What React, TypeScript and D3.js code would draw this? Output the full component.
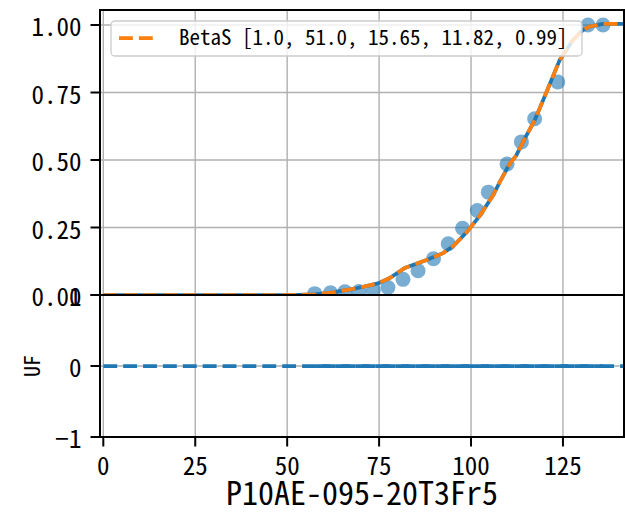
import React from "react";
import * as d3 from "d3";

// ---- data ----
const dataX = [57.5, 61.8, 65.7, 69.5, 73.4, 77.4, 81.5, 85.6, 89.8, 93.8, 97.7, 101.7, 104.7, 109.8, 113.7, 117.3, 123.6, 131.8, 135.9];
const dataY = [0.005, 0.008, 0.012, 0.013, 0.018, 0.028, 0.058, 0.09, 0.134, 0.19, 0.247, 0.313, 0.381, 0.485, 0.567, 0.653, 0.789, 1.0, 1.0];

const fitX = [0, 51, 57.5, 62.5, 68.9, 74.7, 77.9, 82.0, 87.9, 92.4, 95.1, 98.8, 102.4, 106.0, 107.8, 110.5, 112.3, 114.6, 117.3, 119.6, 124.1, 127.7, 130.4, 132.2, 135.9, 141.6];
const fitY = [0, 0, 0.002, 0.01, 0.025, 0.043, 0.063, 0.10, 0.13, 0.155, 0.18, 0.232, 0.294, 0.369, 0.418, 0.486, 0.517, 0.579, 0.647, 0.721, 0.87, 0.944, 0.981, 0.994, 1.004, 1.004];

const residLineX = [0, 141.6];
const residLineY = [0, 0];
const residDataY = dataX.map(() => 0);

const xTicks = [0, 25, 50, 75, 100, 125];
const yTopTicks = [0, 0.25, 0.5, 0.75, 1.0];
const yTopLabels = ["0.00", "0.25", "0.50", "0.75", "1.00"];
const yBotTicks = [-1, 0, 1];
const yBotLabels = ["\u22121", "0", "1"];

const legendLabel = "BetaS [1.0, 51.0, 15.65, 11.82, 0.99]";
const xLabel = "P10AE-095-20T3Fr5";
const yBotLabel = "UF";

const BLUE = "#1f77b4";
const ORANGE = "#ff7f0e";
const GRID = "#b0b0b0";
const FONT = "'Noto Sans Mono CJK JP', 'Noto Sans CJK JP', monospace";

export default function App() {
  const left = 100, right = 624;
  const topY0 = 10, topY1 = 295;
  const botY0 = 295, botY1 = 437;

  const x = d3.scaleLinear().domain([-0.9, 141.6]).range([left, right]);
  const yTop = d3.scaleLinear().domain([0, 1.0556]).range([topY1, topY0]);
  const yBot = d3.scaleLinear().domain([-1, 1]).range([botY1, botY0]);

  const fitPts = fitX.map((v, i) => [v, fitY[i]] as [number, number]);
  const lineTop = d3.line<[number, number]>().x(d => x(d[0])).y(d => yTop(d[1]));
  const lineBot = d3.line<[number, number]>().x(d => x(d[0])).y(d => yBot(d[1]));

  const residFull = residLineX.map((v, i) => [v, residLineY[i]] as [number, number]);
  const residData = dataX.map((v, i) => [v, residDataY[i]] as [number, number]);

  const lw = 3.75;
  const dash = `${3.7 * lw} ${1.6 * lw}`;

  return (
    <svg width={625} height={512} style={{ position: "absolute", left: 0, top: 0, background: "#fff" }} fontFamily={FONT}>
      <defs>
        <clipPath id="clipTop"><rect x={left} y={topY0} width={right - left} height={topY1 - topY0} /></clipPath>
        <clipPath id="clipBot"><rect x={left} y={botY0} width={right - left} height={botY1 - botY0} /></clipPath>
      </defs>
      <rect x={0} y={0} width={625} height={512} fill="#fff" />

      {/* grids */}
      <g stroke={GRID} strokeWidth={1.4}>
        {xTicks.map(t => (
          <line key={"gxt" + t} x1={x(t)} x2={x(t)} y1={topY0} y2={topY1} />
        ))}
        {yTopTicks.map(t => (
          <line key={"gyt" + t} x1={left} x2={right} y1={yTop(t)} y2={yTop(t)} />
        ))}
        {xTicks.map(t => (
          <line key={"gxb" + t} x1={x(t)} x2={x(t)} y1={botY0} y2={botY1} />
        ))}
        {yBotTicks.map(t => (
          <line key={"gyb" + t} x1={left} x2={right} y1={yBot(t)} y2={yBot(t)} />
        ))}
      </g>

      {/* top axes content */}
      <g clipPath="url(#clipTop)">
        {dataX.map((v, i) => (
          <circle key={"p" + i} cx={x(v)} cy={yTop(dataY[i])} r={7.5} fill={BLUE} fillOpacity={0.6} />
        ))}
        <path d={lineTop(fitPts) || ""} fill="none" stroke={BLUE} strokeWidth={lw} />
        <path d={lineTop(fitPts) || ""} fill="none" stroke={ORANGE} strokeWidth={lw} strokeDasharray={dash} />
      </g>

      {/* bottom axes content */}
      <g clipPath="url(#clipBot)">
        <path d={lineBot(residFull) || ""} fill="none" stroke={BLUE} strokeWidth={lw} strokeDasharray={dash} />
        <path d={lineBot(residData) || ""} fill="none" stroke={BLUE} strokeWidth={lw} strokeDasharray={dash} strokeDashoffset={18.7} />
      </g>

      {/* spines */}
      <g fill="none" stroke="#000" strokeWidth={2}>
        <rect x={left} y={topY0} width={right - left} height={topY1 - topY0} />
        <rect x={left} y={botY0} width={right - left} height={botY1 - botY0} />
      </g>

      {/* ticks */}
      <g stroke="#000" strokeWidth={2}>
        {yTopTicks.map(t => (
          <line key={"tyt" + t} x1={left - 9.5} x2={left} y1={yTop(t)} y2={yTop(t)} />
        ))}
        {yBotTicks.map(t => (
          <line key={"tyb" + t} x1={left - 9.5} x2={left} y1={yBot(t)} y2={yBot(t)} />
        ))}
        {xTicks.map(t => (
          <line key={"txb" + t} x1={x(t)} x2={x(t)} y1={botY1} y2={botY1 + 9.5} />
        ))}
      </g>

      {/* tick labels */}
      <g fontSize={25} fill="#000">
        {yTopTicks.map((t, i) => (
          <text key={"lyt" + t} x={81.5} y={yTop(t)} textAnchor="end" dominantBaseline="central">{yTopLabels[i]}</text>
        ))}
        {yBotTicks.map((t, i) => (
          <text key={"lyb" + t} x={81.5} y={yBot(t)} textAnchor="end" dominantBaseline="central">{yBotLabels[i]}</text>
        ))}
        {xTicks.map(t => (
          <text key={"lxb" + t} x={x(t)} y={475} textAnchor="middle">{t}</text>
        ))}
      </g>

      {/* axis labels */}
      <text x={(left + right) / 2} y={505} textAnchor="middle" fontSize={32}>{xLabel}</text>
      <text transform={`translate(${40},${yBot(0)}) rotate(-90)`} textAnchor="middle" fontSize={22}>{yBotLabel}</text>

      {/* legend */}
      <g>
        <rect x={111} y={21} width={471} height={35} rx={4} fill="#fff" fillOpacity={0.8} stroke="#cccccc" strokeWidth={1.3} />
        <line x1={119} x2={155} y1={38} y2={38} stroke={ORANGE} strokeWidth={lw} strokeDasharray={dash} />
        <text x={179} y={45} fontSize={21}>{legendLabel}</text>
      </g>
    </svg>
  );
}
